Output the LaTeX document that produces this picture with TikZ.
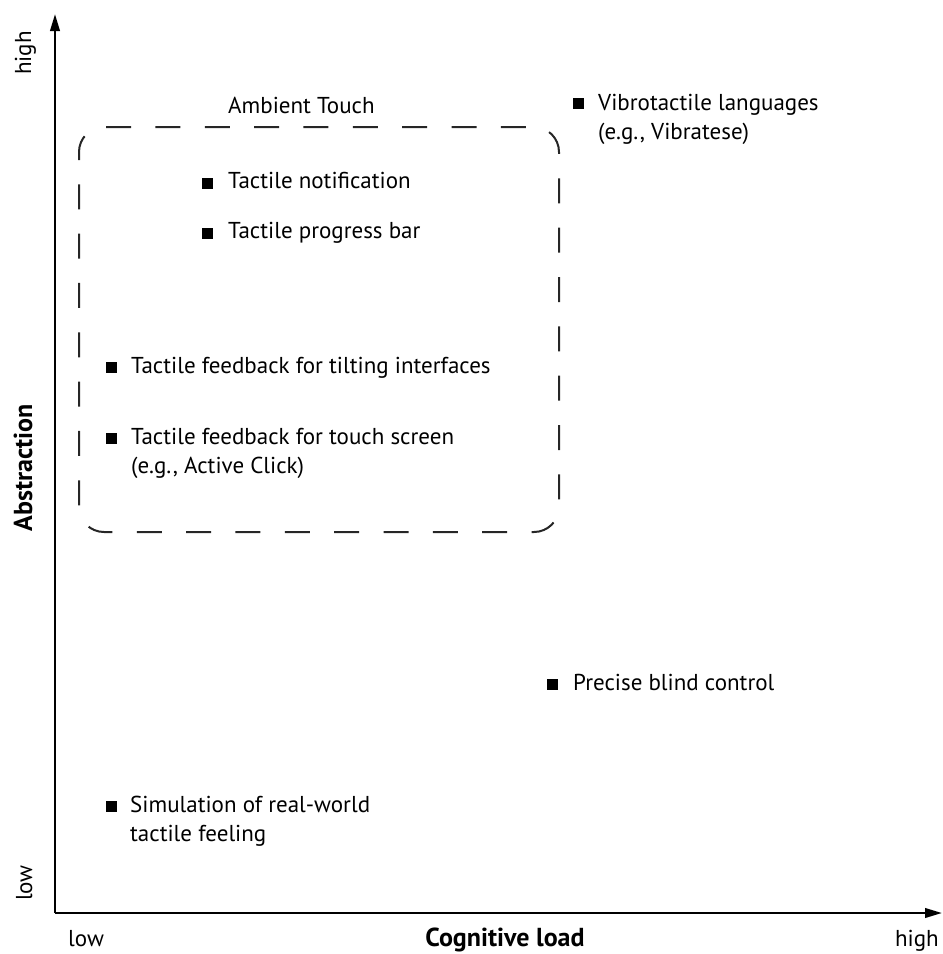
\documentclass[tikz,border=0pt]{standalone}
\usepackage{fontspec}
\setmainfont{PT Sans}
\usetikzlibrary{arrows.meta}
\begin{document}
\begin{tikzpicture}[x=1pt,y=-1pt,
  axis/.style={line width=2.4pt,-{Triangle[length=17pt,width=9.5pt]}},
  dashbox/.style={line width=2pt,color=black!85,dash pattern=on 25pt off 24.34pt},
  sq/.style={fill=black,inner sep=0pt,minimum size=11pt,draw=none},
  lbl/.style={anchor=base west,inner sep=0pt,font=\fontsize{23}{29.5}\selectfont,align=left},
  axlbl/.style={inner sep=0pt,font=\fontsize{23}{29.5}\selectfont},
  axtitle/.style={inner sep=0pt,font=\fontsize{26}{30}\selectfont\bfseries}]
\useasboundingbox (0,0) rectangle (943,954);
% axes
\coordinate (O) at (55,913);
\coordinate (ytop) at (55,14);
\coordinate (xend) at (942,913);
\draw[axis] (O) -- (ytop);
\draw[axis] (O) -- (xend);
% axis labels
\node[axlbl,rotate=90,anchor=base] (yhigh) at (31,53) {high};
\node[axlbl,rotate=90,anchor=base] (ylow) at (32,883) {low};
\node[axtitle,rotate=90,anchor=base] (ytitle) at (32,468) {Abstraction};
\node[axlbl,anchor=base west] (xlow) at (68,946) {low};
\node[axtitle,anchor=base] (xtitle) at (505,946) {Cognitive load};
\node[axlbl,anchor=base east] (xhigh) at (939,946) {high};
% ambient touch box
\draw[dashbox] (79,160) -- (79,152) arc[start angle=180,end angle=270,radius=25]
  -- (534,127) arc[start angle=270,end angle=360,radius=25]
  -- (559,507) arc[start angle=0,end angle=90,radius=25]
  -- (104,532) arc[start angle=90,end angle=180,radius=25] -- cycle;
\node[lbl] (amb) at (228,113) {Ambient Touch};
% items (multi-line nodes are placed by the baseline of their last line)
\node[sq] (m1) at (207.5,183) {};
\node[lbl] (t1) at (228,188.3) {Tactile notification};
\node[sq] (m2) at (207.5,233.3) {};
\node[lbl] (t2) at (228,238.5) {Tactile progress bar};
\node[sq] (m3) at (111,367.5) {};
\node[lbl] (t3) at (131,373) {Tactile feedback for tilting interfaces};
\node[sq] (m4) at (111,438.5) {};
\node[lbl] (t4) at (131,473.5) {Tactile feedback for touch screen\\(e.g., Active Click)};
\node[sq] (m5) at (578.5,103.5) {};
\node[lbl] (t5) at (598,139.5) {Vibrotactile languages\\(e.g., Vibratese)};
\node[sq] (m6) at (552.5,684.5) {};
\node[lbl] (t6) at (573,690) {Precise blind control};
\node[sq] (m7) at (111,806.5) {};
\node[lbl] (t7) at (130,841.5) {Simulation of real-world\\tactile feeling};
\end{tikzpicture}
\end{document}
